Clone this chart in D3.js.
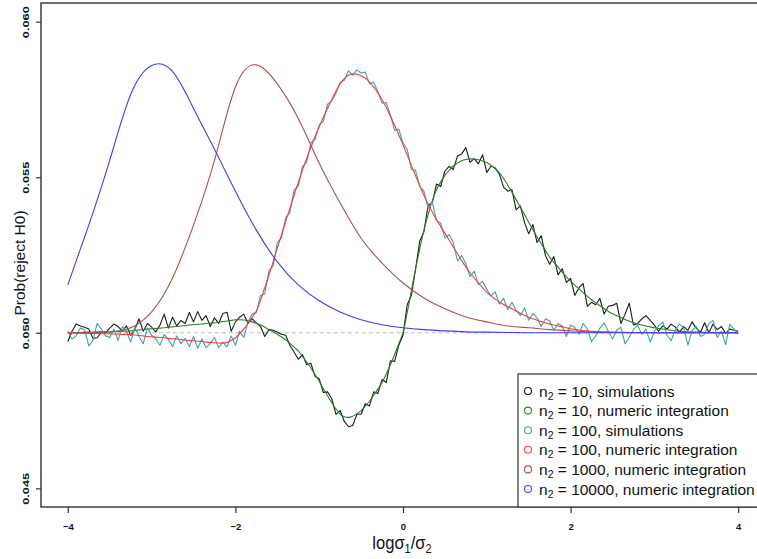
<!DOCTYPE html>
<html><head><meta charset="utf-8">
<script src="https://cdn.jsdelivr.net/npm/d3@7"></script>
<style>body{margin:0;background:#fff}svg{display:block}text{font-family:"Liberation Sans",Arial,Helvetica,sans-serif}</style>
</head><body><svg id="c" width="757" height="559"></svg>
<script>
const xTicks=[-4,-2,0,2,4];
const yTicks=[0.045,0.050,0.055,0.060];
const yTickLabels=["0.045","0.050","0.055","0.060"];
const baseline=0.05;

const xSim=[-4,-3.95,-3.9,-3.85,-3.8,-3.75,-3.7,-3.65,-3.6,-3.55,-3.5,-3.45,-3.4,-3.35,-3.3,-3.25,-3.2,-3.15,-3.1,-3.05,-3,-2.95,-2.9,-2.85,-2.8,-2.75,-2.7,-2.65,-2.6,-2.55,-2.5,-2.45,-2.4,-2.35,-2.3,-2.25,-2.2,-2.15,-2.1,-2.05,-2,-1.95,-1.9,-1.85,-1.8,-1.75,-1.7,-1.65,-1.6,-1.55,-1.5,-1.45,-1.4,-1.35,-1.3,-1.25,-1.2,-1.15,-1.1,-1.05,-1,-0.95,-0.9,-0.85,-0.8,-0.75,-0.7,-0.65,-0.6,-0.55,-0.5,-0.45,-0.4,-0.35,-0.3,-0.25,-0.2,-0.15,-0.1,-0.05,0,0.05,0.1,0.15,0.2,0.25,0.3,0.35,0.4,0.45,0.5,0.55,0.6,0.65,0.7,0.75,0.8,0.85,0.9,0.95,1,1.05,1.1,1.15,1.2,1.25,1.3,1.35,1.4,1.45,1.5,1.55,1.6,1.65,1.7,1.75,1.8,1.85,1.9,1.95,2,2.05,2.1,2.15,2.2,2.25,2.3,2.35,2.4,2.45,2.5,2.55,2.6,2.65,2.7,2.75,2.8,2.85,2.9,2.95,3,3.05,3.1,3.15,3.2,3.25,3.3,3.35,3.4,3.45,3.5,3.55,3.6,3.65,3.7,3.75,3.8,3.85,3.9,3.95,4];
const xSmooth=[-4,-3.75,-3.5,-3.25,-3,-2.75,-2.5,-2.25,-2,-1.75,-1.5,-1.25,-1,-0.75,-0.5,-0.25,0,0.25,0.5,0.75,1,1.25,1.5,1.75,2,2.25,2.5,2.75,3,3.25,3.5,3.75,4];

// n2 = 10, simulations
const simN10=[0.04972,0.05005,0.05028,0.05022,0.05018,0.05012,0.04982,0.04984,0.05002,0.05000,
0.05015,0.05028,0.05020,0.05005,0.05022,0.04992,0.05010,0.05045,0.05005,0.05030,
0.05018,0.05003,0.05025,0.05060,0.05015,0.05050,0.05022,0.05040,0.05030,0.05065,
0.05035,0.05068,0.05040,0.05055,0.05020,0.05048,0.05030,0.05062,0.05066,0.05005,
0.05035,0.05050,0.05060,0.05030,0.05045,0.05032,0.05020,0.04988,0.05010,0.05008,
0.05002,0.04995,0.04992,0.04960,0.04938,0.04915,0.04930,0.04897,0.04902,0.04860,
0.04852,0.04808,0.04810,0.04788,0.04738,0.04750,0.04715,0.04698,0.04702,0.04738,
0.04738,0.04772,0.04765,0.04810,0.04805,0.04850,0.04840,0.04910,0.04908,0.04960,
0.04992,0.05090,0.05120,0.05205,0.05295,0.05325,0.05410,0.05418,0.05478,0.05470,
0.05520,0.05535,0.05525,0.05568,0.05575,0.05595,0.05548,0.05560,0.05543,0.05572,
0.05515,0.05536,0.05530,0.05510,0.05468,0.05455,0.05460,0.05395,0.05408,0.05355,
0.05318,0.05348,0.05290,0.05312,0.05248,0.05220,0.05245,0.05186,0.05206,0.05162,
0.05175,0.05120,0.05145,0.05158,0.05085,0.05098,0.05090,0.05110,0.05060,0.05085,
0.05088,0.05095,0.05030,0.05060,0.05095,0.05025,0.05030,0.05045,0.05055,0.05040,
0.05025,0.05005,0.05022,0.05012,0.05028,0.05018,0.05002,0.05020,0.05008,0.05035,
0.05015,0.05002,0.05032,0.05000,0.05028,0.05010,0.05020,0.04998,0.05012,0.05008,0.05005];

// n2 = 10, numeric integration
const numN10=[0.05000,0.05000,0.05001,0.05001,0.05002,0.05002,0.05002,0.05003,0.05003,0.05003,
0.05003,0.05004,0.05004,0.05005,0.05005,0.05006,0.05007,0.05009,0.05010,0.05012,
0.05013,0.05014,0.05015,0.05016,0.05018,0.05019,0.05020,0.05022,0.05023,0.05025,
0.05026,0.05027,0.05028,0.05030,0.05031,0.05032,0.05034,0.05036,0.05038,0.05040,
0.05042,0.05042,0.05041,0.05039,0.05035,0.05030,0.05025,0.05018,0.05010,0.05003,
0.04995,0.04987,0.04977,0.04966,0.04954,0.04942,0.04924,0.04906,0.04887,0.04866,
0.04844,0.04820,0.04797,0.04775,0.04755,0.04738,0.04730,0.04728,0.04732,0.04740,
0.04750,0.04764,0.04780,0.04799,0.04819,0.04840,0.04867,0.04897,0.04930,0.04965,
0.05000,0.05065,0.05135,0.05205,0.05270,0.05330,0.05380,0.05425,0.05460,0.05485,
0.05506,0.05522,0.05536,0.05546,0.05553,0.05557,0.05559,0.05558,0.05556,0.05552,
0.05547,0.05538,0.05527,0.05514,0.05496,0.05474,0.05452,0.05428,0.05404,0.05380,
0.05355,0.05331,0.05308,0.05286,0.05264,0.05243,0.05227,0.05211,0.05195,0.05180,
0.05166,0.05153,0.05141,0.05129,0.05117,0.05106,0.05096,0.05087,0.05078,0.05069,
0.05061,0.05055,0.05049,0.05043,0.05037,0.05032,0.05028,0.05025,0.05022,0.05019,
0.05016,0.05014,0.05012,0.05010,0.05008,0.05006,0.05005,0.05004,0.05003,0.05003,
0.05002,0.05002,0.05001,0.05001,0.05000,0.05000,0.05000,0.05000,0.05000,0.05000,0.05000];

// n2 = 100, simulations
const simN100=[0.05005,0.04980,0.04990,0.05015,0.05010,0.04958,0.04975,0.05030,0.05012,0.04990,
0.04985,0.05012,0.04975,0.05020,0.05005,0.04970,0.05018,0.04988,0.04965,0.05015,
0.04992,0.04980,0.04960,0.04995,0.04978,0.04955,0.04990,0.04965,0.04982,0.04955,
0.04988,0.04950,0.04980,0.04952,0.04965,0.04985,0.04952,0.04970,0.04955,0.04990,
0.04960,0.05005,0.04985,0.05035,0.05060,0.05065,0.05120,0.05125,0.05200,0.05215,
0.05290,0.05305,0.05370,0.05385,0.05460,0.05470,0.05535,0.05548,0.05610,0.05622,
0.05668,0.05680,0.05735,0.05745,0.05770,0.05805,0.05812,0.05842,0.05828,0.05845,
0.05835,0.05838,0.05800,0.05805,0.05775,0.05738,0.05740,0.05700,0.05650,0.05655,
0.05610,0.05590,0.05525,0.05522,0.05470,0.05455,0.05400,0.05420,0.05360,0.05352,
0.05305,0.05315,0.05290,0.05230,0.05248,0.05222,0.05180,0.05198,0.05155,0.05165,
0.05140,0.05118,0.05132,0.05092,0.05110,0.05075,0.05098,0.05072,0.05055,0.05080,
0.05040,0.05062,0.05048,0.05020,0.05045,0.05038,0.05008,0.05030,0.05022,0.04988,
0.05025,0.05018,0.04995,0.05030,0.05012,0.04972,0.04990,0.05015,0.05032,0.05005,
0.04980,0.05008,0.05018,0.04965,0.04985,0.05010,0.05025,0.04995,0.05012,0.04970,
0.05005,0.05022,0.05035,0.04992,0.04975,0.05010,0.05028,0.05015,0.04960,0.05008,
0.05020,0.04988,0.04995,0.05030,0.05040,0.04985,0.05005,0.04962,0.05028,0.05012,0.04995];

// n2 = 100, numeric integration
const numN100=[0.05000,0.05000,0.04999,0.04999,0.04998,0.04998,0.04998,0.04998,0.04997,0.04997,
0.04997,0.04996,0.04996,0.04995,0.04995,0.04994,0.04993,0.04991,0.04990,0.04988,
0.04987,0.04986,0.04985,0.04984,0.04982,0.04981,0.04980,0.04978,0.04977,0.04975,
0.04974,0.04973,0.04972,0.04970,0.04969,0.04968,0.04967,0.04967,0.04969,0.04975,
0.04984,0.04997,0.05012,0.05030,0.05050,0.05070,0.05105,0.05145,0.05185,0.05228,
0.05272,0.05315,0.05358,0.05400,0.05442,0.05483,0.05522,0.05560,0.05596,0.05630,
0.05662,0.05693,0.05722,0.05750,0.05777,0.05800,0.05817,0.05828,0.05832,0.05831,
0.05826,0.05818,0.05806,0.05790,0.05771,0.05749,0.05724,0.05696,0.05667,0.05636,
0.05604,0.05571,0.05538,0.05505,0.05473,0.05442,0.05414,0.05388,0.05363,0.05342,
0.05320,0.05298,0.05276,0.05254,0.05232,0.05212,0.05193,0.05176,0.05160,0.05145,
0.05131,0.05119,0.05108,0.05099,0.05091,0.05084,0.05077,0.05070,0.05063,0.05056,
0.05050,0.05045,0.05040,0.05036,0.05032,0.05028,0.05025,0.05022,0.05019,0.05016,
0.05013,0.05011,0.05009,0.05007,0.05006,0.05005,0.05004,0.05003,0.05002,0.05002,
0.05001,0.05001,0.05001,0.05001,0.05000,0.05000,0.05000,0.05000,0.05000,0.05000,
0.05000,0.05000,0.05000,0.05000,0.05000,0.05000,0.05000,0.05000,0.05000,0.05000,
0.05000,0.05000,0.05000,0.05000,0.05000,0.05000,0.05000,0.05000,0.05000,0.05000,0.05000];

// n2 = 1000, numeric integration (on xSmooth)
const numN1000=[0.05000,0.05000,0.05003,0.05016,0.05067,0.05176,0.05346,0.05554,0.05790,0.05861,
0.05800,0.05689,0.05545,0.05417,0.05304,0.05224,0.05160,0.05112,0.05077,0.05051,
0.05035,0.05022,0.05016,0.05010,0.05006,0.05003,0.05002,0.05001,0.05000,0.05000,0.05000,0.05000,0.05000];

// n2 = 10000, numeric integration (on xSmooth)
const numN10000=[0.05154,0.05346,0.05554,0.05766,0.05859,0.05840,0.05721,0.05590,0.05455,0.05330,
0.05228,0.05154,0.05103,0.05067,0.05042,0.05026,0.05016,0.05010,0.05006,0.05003,
0.05002,0.05001,0.05000,0.05000,0.05000,0.05000,0.05000,0.05000,0.05000,0.05000,0.05000,0.05000,0.05000];

const legendN=["10","10","100","100","1000","10000"];
const legendKind=["simulations","numeric integration","simulations","numeric integration","numeric integration","numeric integration"];
const seriesColors=["#1a1a1a","#2f7d2f","#3aa6a6","#ff3838","#b04e4e","#3d3dff"];

const series=[
 {xs:xSim,ys:simN10,c:seriesColors[0],curve:d3.curveLinear},
 {xs:xSim,ys:numN10,c:seriesColors[1],curve:d3.curveCatmullRom},
 {xs:xSim,ys:simN100,c:seriesColors[2],curve:d3.curveLinear},
 {xs:xSim,ys:numN100,c:seriesColors[3],curve:d3.curveCatmullRom},
 {xs:xSmooth,ys:numN1000,c:seriesColors[4],curve:d3.curveNatural},
 {xs:xSmooth,ys:numN10000,c:seriesColors[5],curve:d3.curveNatural}
];
series.forEach((s,i)=>{ if(s.xs.length!==s.ys.length) throw new Error("length mismatch series "+i+": "+s.xs.length+" vs "+s.ys.length); });

const svg=d3.select("#c");
const x=d3.scaleLinear().domain([-4.32,4.32]).range([41,765]);
const y=d3.scaleLinear().domain([0.0444,0.0606]).range([507,3]);

svg.append("defs").append("clipPath").attr("id","clip")
  .append("rect").attr("x",41).attr("y",3).attr("width",724).attr("height",504);

const plot=svg.append("g").attr("clip-path","url(#clip)");

plot.append("line")
  .attr("x1",x(-4)).attr("x2",x(4)).attr("y1",y(baseline)).attr("y2",y(baseline))
  .attr("stroke","#bdbdbd").attr("stroke-width",1).attr("stroke-dasharray","4,3");

series.forEach(s=>{
  const data=s.xs.map((v,i)=>[v,s.ys[i]]);
  plot.append("path").datum(data)
    .attr("fill","none").attr("stroke",s.c).attr("stroke-width",1.1)
    .attr("stroke-linejoin","round")
    .attr("d",d3.line().x(d=>x(d[0])).y(d=>y(d[1])).curve(s.curve));
});

// axes
const xAxis=svg.append("g").attr("transform","translate(0,507)")
  .call(d3.axisBottom(x).tickValues(xTicks).tickSize(6).tickFormat(d3.format("d")));
xAxis.select(".domain").remove();
xAxis.selectAll("line").attr("stroke","#333").attr("stroke-width",1.2);
xAxis.selectAll("text").attr("y",19).attr("dy",null).attr("dominant-baseline","central")
  .attr("font-size",9.5).attr("font-weight","bold").attr("fill","#111")
  .style("font-family","'Liberation Sans',Arial,sans-serif");

const yAxis=svg.append("g").attr("transform","translate(41,0)")
  .call(d3.axisLeft(y).tickValues(yTicks).tickSize(5).tickFormat((d,i)=>yTickLabels[i]));
yAxis.select(".domain").remove();
yAxis.selectAll("line").attr("stroke","#333").attr("stroke-width",1.2);
yAxis.selectAll("text")
  .attr("x",null).attr("dy",null)
  .attr("text-anchor","middle").attr("dominant-baseline","central")
  .attr("transform","translate(-16,0) rotate(-90)")
  .attr("font-size",9.5).attr("font-weight","bold").attr("fill","#111")
  .attr("textLength",32).attr("lengthAdjust","spacingAndGlyphs")
  .style("font-family","'Liberation Sans',Arial,sans-serif");

// frame
svg.append("rect").attr("x",41).attr("y",3).attr("width",724).attr("height",504)
  .attr("fill","none").attr("stroke","#333").attr("stroke-width",1.4);

// axis titles
const xt=svg.append("text").attr("transform","translate(402,549) scale(0.92,1)")
  .attr("text-anchor","middle").attr("font-size",18).attr("fill","#111");
xt.append("tspan").text("logσ");
xt.append("tspan").attr("font-size",12).attr("dy",4).text("1");
xt.append("tspan").attr("dy",-4).text("/σ");
xt.append("tspan").attr("font-size",12).attr("dy",4).text("2");

svg.append("text").attr("transform","translate(19,263) rotate(-90)")
  .attr("text-anchor","middle").attr("dominant-baseline","central")
  .attr("font-size",15.5).attr("fill","#111").text("Prob(reject H0)");

// legend
const lg=svg.append("g");
lg.append("rect").attr("x",518).attr("y",374).attr("width",260).attr("height",133)
  .attr("fill","#fff").attr("stroke","#333").attr("stroke-width",1.2);
legendN.forEach((n,i)=>{
  const cy=391+i*19.6;
  lg.append("circle").attr("cx",528).attr("cy",cy).attr("r",3.5)
    .attr("fill","none").attr("stroke",seriesColors[i]).attr("stroke-width",1.1);
  const t=lg.append("text").attr("x",539).attr("y",cy).attr("dy","0.36em")
    .attr("font-size",15.5).attr("fill","#111");
  t.append("tspan").text("n");
  t.append("tspan").attr("font-size",10.5).attr("dy",3).text("2");
  t.append("tspan").attr("dy",-3).text(" = "+n+", "+legendKind[i]);
});
</script></body></html>
